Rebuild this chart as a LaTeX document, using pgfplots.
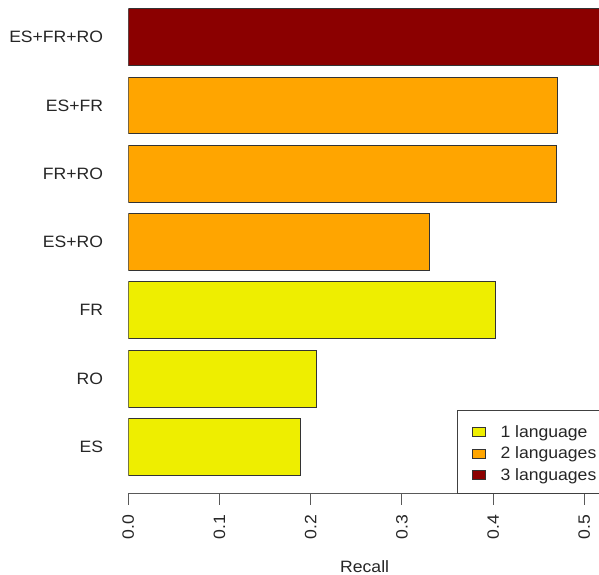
\documentclass[border=0pt]{standalone}
\usepackage{fontspec}
\setmainfont{Liberation Sans}[FakeStretch=1.07]
\usepackage{pgfplots}
\pgfplotsset{compat=1.18}
\definecolor{c1}{HTML}{EEEE00}
\definecolor{c2}{HTML}{FFA500}
\definecolor{c3}{HTML}{8B0000}
\newcommand{\rf}{\fontsize{16.5}{19}\selectfont}
\pgfplotsset{rlegend/.style={legend image code/.code={\draw[##1] (0bp,0.5bp) rectangle (13bp,9.5bp);}}}
\begin{document}
\begin{tikzpicture}[x=1bp,y=1bp]
\path[use as bounding box] (0,0) rectangle (599,575);
\clip (0,0) rectangle (599,575);
\begin{axis}[
  at={(128.3bp,81bp)}, anchor=south west,
  scale only axis, width=470.7bp, height=494bp,
  xmin=0, xmax=0.5161, ymin=-0.128, ymax=8.554,
  axis x line*=bottom, axis y line*=left,
  y axis line style={draw=none},
  x axis line style={draw=black!65, line width=1bp},
  xtick={0,0.1,0.2,0.3,0.4,0.5},
  xticklabels={0.0,0.1,0.2,0.3,0.4,0.5},
  xtick align=outside,
  major tick length=11bp,
  xtick style={draw=black!65, line width=1bp},
  ytick={0.7,1.9,3.1,4.3,5.5,6.7,7.9},
  yticklabels={ES,RO,FR,ES+RO,FR+RO,ES+FR,ES+FR+RO},
  ytick style={draw=none},
  ytick align=inside,
  xticklabel style={yshift=-10bp, rotate=90, anchor=east, inner sep=0pt, font=\rf, text=black!85},
  yticklabel style={anchor=east, inner sep=0pt, xshift=-25bp, font=\rf, text=black!85},
  xlabel={Recall},
  xlabel style={at={(axis description cs:0.5,0)}, anchor=center, xshift=1bp, yshift=-73bp, inner sep=0pt, font=\rf, text=black!85},
  legend cell align=left,
  legend style={at={(axis description cs:0.6983,0)}, anchor=south west,
    draw=black!75, line width=1bp, fill=white, font=\rf, text=black!85,
    inner xsep=14bp, inner ysep=11bp, row sep=3.5bp,
    nodes={inner sep=0pt, text height=16bp, text depth=2bp},
    cells={anchor=base west},
    /tikz/every odd column/.append style={column sep=15bp}},
]
\addplot[xbar, bar width=1, bar shift=0pt, fill=c1, draw=black!80, line width=1bp, rlegend]
  coordinates {(0.189,0.7) (0.2066,1.9) (0.403,3.1)};
\addlegendentry{1 language}
\addplot[xbar, bar width=1, bar shift=0pt, fill=c2, draw=black!80, line width=1bp, rlegend]
  coordinates {(0.330,4.3) (0.4693,5.5) (0.4708,6.7)};
\addlegendentry{2 languages}
\addplot[xbar, bar width=1, bar shift=0pt, fill=c3, draw=black!80, line width=1bp, rlegend]
  coordinates {(0.535,7.9)};
\addlegendentry{3 languages}
\end{axis}
\end{tikzpicture}
\end{document}
